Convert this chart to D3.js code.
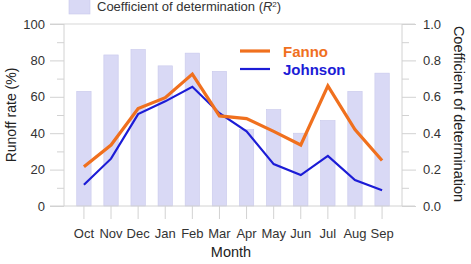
<!DOCTYPE html>
<html>
<head>
<meta charset="utf-8">
<script src="https://cdn.jsdelivr.net/npm/d3@7"></script>
<style>
  body { margin: 0; background: #fff; }
  text { font-family: "Liberation Sans", Arial, sans-serif; }
</style>
</head>
<body>
<script>
// data
var months = ["Oct","Nov","Dec","Jan","Feb","Mar","Apr","May","Jun","Jul","Aug","Sep"];
var r2 = [0.63, 0.83, 0.86, 0.77, 0.84, 0.74, 0.42, 0.53, 0.40, 0.47, 0.63, 0.73];
var fanno = [21.5, 33.5, 53.5, 59.5, 72.5, 49.5, 48, 41, 33.5, 66, 42, 25];
var johnson = [11.7, 26, 50.5, 57.5, 65.5, 51, 41, 23, 17, 27.5, 14.2, 8.7];
var leftTicks = [0, 20, 40, 60, 80, 100];
var rightTicks = [0, 0.2, 0.4, 0.6, 0.8, 1.0];

var width = 471, height = 264;
var x0 = 64, x1 = 402, yTop = 24, yBot = 206;
var axisCol = "#d2d2d2", labCol = "#333";

var svg = d3.select("body").append("svg")
    .attr("width", width)
    .attr("height", height);

var x = d3.scaleBand().domain(months).range([x0, x1]).padding(0.47);
var y = d3.scaleLinear().domain([0, 100]).range([yBot, yTop]);
var y2 = d3.scaleLinear().domain([0, 1]).range([yBot, yTop]);

// frame lines top and bottom
svg.append("line").attr("x1", 50).attr("x2", 415).attr("y1", yTop).attr("y2", yTop)
    .attr("stroke", "#e4e4e4").attr("stroke-width", 1.5);

// bars
svg.append("g").selectAll("rect")
    .data(r2).enter().append("rect")
    .attr("x", function(d, i){ return x(months[i]); })
    .attr("y", function(d){ return y2(d); })
    .attr("width", x.bandwidth())
    .attr("height", function(d){ return yBot - y2(d); })
    .attr("fill", "#d9d9f5")
    .attr("stroke", "#c8c8ec")
    .attr("stroke-width", 0.6);

function styleAxis(g){
    g.select(".domain").remove();
    g.selectAll("line").attr("stroke", axisCol);
    g.selectAll("text").attr("fill", labCol).style("font-size", "13px")
        .style("font-family", "'Liberation Sans', Arial, sans-serif");
}

// left axis (major + minor)
svg.append("g").attr("transform", "translate(" + x0 + ",0)")
    .call(d3.axisLeft(y).tickValues(d3.range(10, 100, 20)).tickSize(7).tickFormat(""))
    .call(styleAxis);
svg.append("g").attr("transform", "translate(" + x0 + ",0)")
    .call(d3.axisLeft(y).tickValues(leftTicks).tickSize(14).tickPadding(5))
    .call(styleAxis);

// right axis
svg.append("g").attr("transform", "translate(" + x1 + ",0)")
    .call(d3.axisRight(y2).tickValues(d3.range(0.1, 1, 0.2)).tickSize(7).tickFormat(""))
    .call(styleAxis);
svg.append("g").attr("transform", "translate(" + x1 + ",0)")
    .call(d3.axisRight(y2).tickValues(rightTicks).tickSize(14).tickPadding(7).tickFormat(d3.format(".1f")))
    .call(styleAxis);

// bottom axis
svg.append("g").attr("transform", "translate(0," + yBot + ")")
    .call(d3.axisBottom(x).tickSize(13).tickPadding(10))
    .call(styleAxis);

// axis lines
svg.append("line").attr("x1", x0).attr("x2", x0).attr("y1", yTop).attr("y2", yBot).attr("stroke", axisCol);
svg.append("line").attr("x1", x1).attr("x2", x1).attr("y1", yTop).attr("y2", yBot).attr("stroke", axisCol);
svg.append("line").attr("x1", 50).attr("x2", 415).attr("y1", yBot).attr("y2", yBot).attr("stroke", axisCol);

// lines
var line = d3.line()
    .x(function(d, i){ return x(months[i]) + x.bandwidth() / 2; })
    .y(function(d){ return y(d); });

svg.append("path").datum(johnson)
    .attr("d", line).attr("fill", "none")
    .attr("stroke", "#1c1cd6").attr("stroke-width", 2.2)
    .attr("stroke-linejoin", "miter");

svg.append("path").datum(fanno)
    .attr("d", line).attr("fill", "none")
    .attr("stroke", "#f0701e").attr("stroke-width", 3.2)
    .attr("stroke-linejoin", "miter");

// axis titles
svg.append("text")
    .attr("transform", "translate(16,115) rotate(-90)")
    .attr("text-anchor", "middle")
    .style("font-size", "14px").attr("fill", "#222")
    .text("Runoff rate (%)");

svg.append("text")
    .attr("transform", "translate(454,114) rotate(90)")
    .attr("text-anchor", "middle")
    .style("font-size", "14.5px").attr("fill", "#222")
    .text("Coefficient of determination");

svg.append("text")
    .attr("x", 231).attr("y", 257)
    .attr("text-anchor", "middle")
    .style("font-size", "14.5px").attr("fill", "#222")
    .text("Month");

// legend: bars
svg.append("rect").attr("x", 69).attr("y", -1).attr("width", 21).attr("height", 15)
    .attr("fill", "#d9d9f5").attr("stroke", "#c8c8ec").attr("stroke-width", 0.6);
var lt = svg.append("text").attr("x", 97).attr("y", 11)
    .style("font-size", "13px").attr("fill", labCol);
lt.append("tspan").text("Coefficient of determination (");
lt.append("tspan").style("font-style", "italic").text("R");
lt.append("tspan").attr("dy", -4).style("font-size", "8px").text("2");
lt.append("tspan").attr("dy", 4).text(")");

// legend: lines
var leg = [
    {name: "Fanno", col: "#f0701e", w: 3.2, y: 51},
    {name: "Johnson", col: "#1c1cd6", w: 2.2, y: 69}
];
leg.forEach(function(d){
    svg.append("line").attr("x1", 240).attr("x2", 270).attr("y1", d.y).attr("y2", d.y)
        .attr("stroke", d.col).attr("stroke-width", d.w);
    svg.append("text").attr("x", 283).attr("y", d.y + 5.5)
        .style("font-size", "15px").style("font-weight", "bold")
        .attr("fill", d.col).text(d.name);
});
</script>
</body>
</html>
